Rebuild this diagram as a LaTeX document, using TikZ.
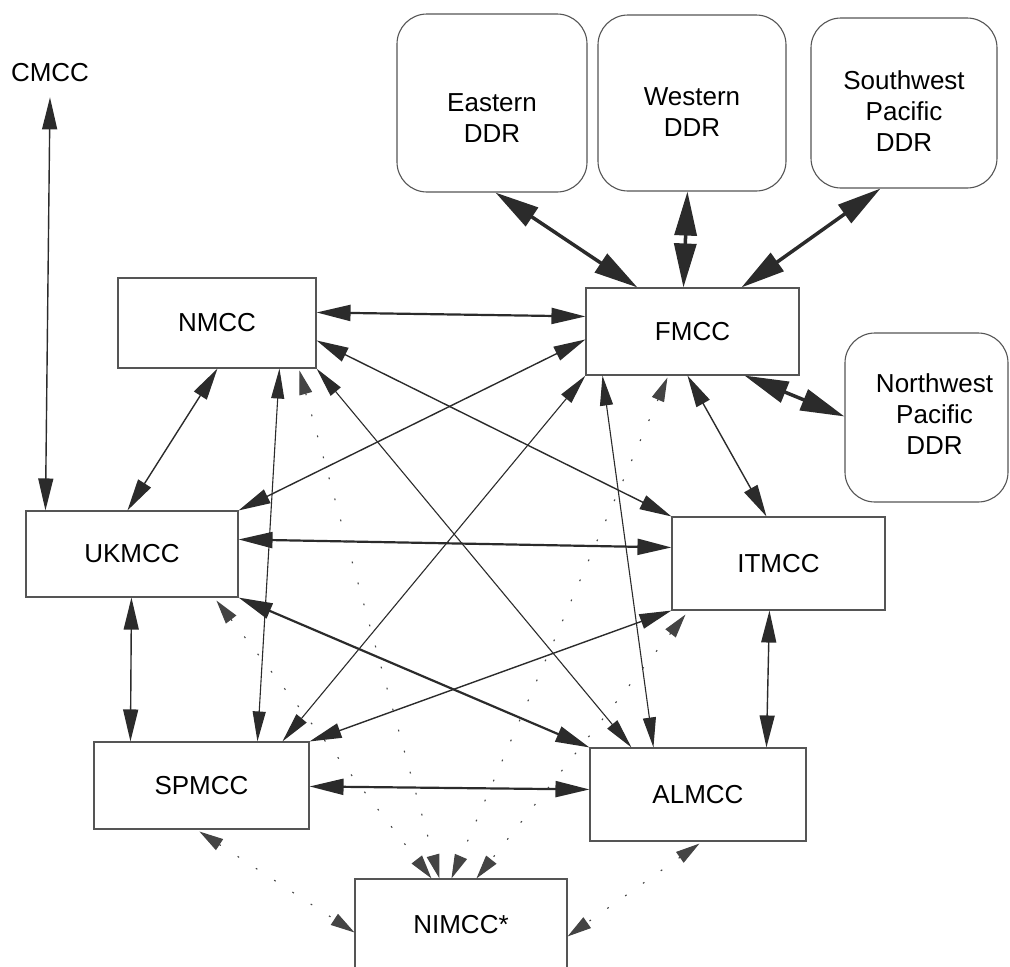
\documentclass[tikz,border=0pt]{standalone}
\usepackage{fontspec}
\setmainfont{Liberation Sans}
\usetikzlibrary{arrows.meta,calc}
\definecolor{linec}{HTML}{2B2B2B}
\definecolor{boxc}{HTML}{555555}
\definecolor{dotc}{HTML}{444444}
\begin{document}
\begin{tikzpicture}[x=1pt,y=-1pt,
  mcc/.style={draw=boxc, line width=1.1pt, font=\fontsize{26}{31}\selectfont, inner sep=0pt, align=center},
  ddr/.style={mcc, rounded corners=30pt},
  lbl/.style={font=\fontsize{26}{31}\selectfont, inner sep=0pt, align=center},
  lnk/.style={draw=linec, line width=1.4pt, arrows={Triangle[length=32pt,width=15pt]-Triangle[length=32pt,width=15pt]}},
  lnkthin/.style={draw=linec, line width=1.1pt, arrows={Triangle[length=30pt,width=13pt]-Triangle[length=30pt,width=13pt]}},
  lnkbold/.style={draw=linec, line width=2.2pt, arrows={Triangle[length=34pt,width=16pt]-Triangle[length=34pt,width=16pt]}},
  ddrlnk/.style={draw=linec, line width=3.5pt, arrows={Triangle[length=44pt,width=22pt]-Triangle[length=44pt,width=22pt]}},
  dotlnk/.style={draw=dotc, line width=1.1pt, dash pattern=on 1.8pt off 20pt, arrows={Triangle[length=24pt,width=13pt]-Triangle[length=24pt,width=13pt]}}
]
\useasboundingbox (0,0) rectangle (1010,967);

% nodes
\node[lbl] (cmcc) at (50,73) {CMCC};
\node[ddr, minimum width=190pt, minimum height=178pt,
  label={[lbl, yshift=-15pt]center:Eastern\\DDR}] (eddr) at (492,103) {};
\node[ddr, minimum width=188pt, minimum height=176pt,
  label={[lbl, yshift=-9pt]center:Western\\DDR}] (wddr) at (692,103) {};
\node[ddr, minimum width=186pt, minimum height=170pt,
  label={[lbl, yshift=-8pt]center:Southwest\\Pacific\\DDR}] (swddr) at (904,103) {};
\node[ddr, minimum width=163pt, minimum height=169pt,
  label={[lbl, xshift=8pt, yshift=3pt]center:Northwest\\Pacific\\DDR}] (nwddr) at (926.5,417.5) {};
\node[mcc, minimum width=198pt, minimum height=90pt] (nmcc) at (217,323) {NMCC};
\node[mcc, minimum width=213pt, minimum height=87pt] (fmcc) at (692.5,331.5) {FMCC};
\node[mcc, minimum width=212pt, minimum height=86pt] (ukmcc) at (132,554) {UKMCC};
\node[mcc, minimum width=213pt, minimum height=93pt] (itmcc) at (778.5,563.5) {ITMCC};
\node[mcc, minimum width=215pt, minimum height=87pt] (spmcc) at (201.5,785.5) {SPMCC};
\node[mcc, minimum width=216pt, minimum height=93pt] (almcc) at (698,794.5) {ALMCC};
\node[mcc, minimum width=212pt, minimum height=92pt] (nimcc) at (461,925) {NIMCC*};

% DDR links
\draw[ddrlnk] ([xshift=99pt]eddr.south west) -- ([xshift=52pt]fmcc.north west);
\draw[ddrlnk] ([xshift=90pt]wddr.south west) -- ([xshift=98pt]fmcc.north west);
\draw[ddrlnk] ([xshift=70pt]swddr.south west) -- ([xshift=156pt]fmcc.north west);
\draw[ddrlnk] ([xshift=159pt]fmcc.south west) -- ([yshift=-84pt]nwddr.north west);

% solid links
\draw[lnk] ([yshift=-15pt]cmcc.south) -- ([xshift=20pt]ukmcc.north west);
\draw[lnkbold] ([yshift=-35pt]nmcc.north east) -- ([yshift=-29pt]fmcc.north west);
\draw[lnk] ([xshift=100pt]nmcc.south west) -- ([xshift=102pt]ukmcc.north west);
\draw[lnk] ([yshift=-52pt]fmcc.north west) -- (ukmcc.north east);
\draw[lnk] ([yshift=-63pt]nmcc.north east) -- (itmcc.north west);
\draw[lnkbold] ([yshift=-29pt]ukmcc.north east) -- ([yshift=-31pt]itmcc.north west);
\draw[lnk] ([xshift=106pt]ukmcc.south west) -- ([xshift=37pt]spmcc.north west);
\draw[lnkthin] ([xshift=162pt]nmcc.south west) -- ([xshift=164pt]spmcc.north west);
\draw[lnkthin] (nmcc.south east) -- ([xshift=42pt]almcc.north west);
\draw[lnkthin] (fmcc.south west) -- ([xshift=189pt]spmcc.north west);
\draw[lnkthin] ([xshift=17pt]fmcc.south west) -- ([xshift=64pt]almcc.north west);
\draw[lnk] ([xshift=102pt]fmcc.south west) -- ([xshift=95pt]itmcc.north west);
\draw[lnkbold] (ukmcc.south east) -- (almcc.north west);
\draw[lnk] (itmcc.south west) -- (spmcc.north east);
\draw[lnkbold] ([yshift=-45pt]spmcc.north east) -- ([yshift=-42pt]almcc.north west);
\draw[lnk] ([xshift=98pt]itmcc.south west) -- ([xshift=177pt]almcc.north west);

% dotted links
\draw[dotlnk] ([xshift=191pt,yshift=-3pt]ukmcc.south west) -- ([xshift=77pt]nimcc.north west);
\draw[dotlnk] ([xshift=182pt,yshift=-2pt]nmcc.south west) -- ([xshift=85pt]nimcc.north west);
\draw[dotlnk] ([xshift=82pt,yshift=-2pt]fmcc.south west) -- ([xshift=97pt]nimcc.north west);
\draw[dotlnk] ([xshift=14pt,yshift=-4pt]itmcc.south west) -- ([xshift=122pt]nimcc.north west);
\draw[dotlnk] ([xshift=106pt,yshift=-2pt]spmcc.south west) -- ([yshift=-54pt]nimcc.north west);
\draw[dotlnk] ([xshift=110pt,yshift=-2pt]almcc.south west) -- ([yshift=-58pt]nimcc.north east);
\end{tikzpicture}
\end{document}
